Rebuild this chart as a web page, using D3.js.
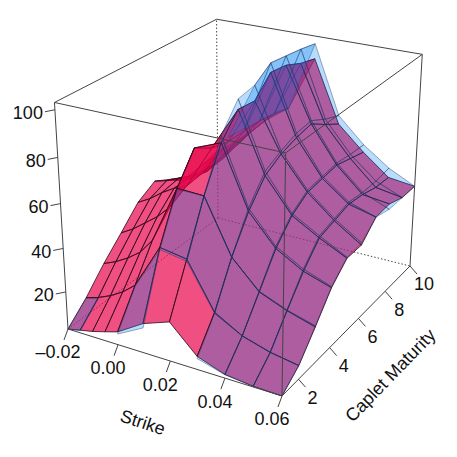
<!DOCTYPE html>
<html>
<head>
<meta charset="utf-8">
<script src="https://cdn.jsdelivr.net/npm/d3@7"></script>
<style>
body { margin: 0; background: #fff; }
text { font-family: "Liberation Sans", Arial, sans-serif; font-size: 18px; fill: #111; }
</style>
</head>
<body>
<script>
//axis values
var strikes = [-0.02, -0.015, -0.01, -0.005, 0, 0.01, 0.02, 0.03, 0.04, 0.05, 0.06];
var maturities = [1, 2, 3, 4, 5, 6, 7, 8, 9, 10];
var strikeTicks = [-0.02, 0, 0.02, 0.04, 0.06];
var strikeLabels = ["\u20130.02", "0.00", "0.02", "0.04", "0.06"];
var maturityTicks = [2, 4, 6, 8, 10];
var volTicks = [20, 40, 60, 80, 100];

//first surface, one row per maturity, one value per strike
var pinkRows = [
    [2.5, 3.8, 5, 6.7, 8.5, 16, 20.4, 8.5, 4.2, 2.8, 2.5],
    [10.8, 12.6, 15.2, 18.7, 23.5, 44, 42, 21.6, 14.5, 10.8, 8.7],
    [20.8, 23.3, 26.7, 31, 38, 64.5, 64, 40, 27.7, 22.7, 19],
    [29.5, 32.9, 37.3, 41.7, 47.5, 77, 81.8, 54.5, 41, 34, 30],
    [38.5, 41.7, 46, 49.5, 52, 72, 91.5, 65, 50, 43, 37],
    [43.3, 45, 47.5, 50, 53, 70, 90.6, 69.5, 55, 45, 37],
    [39, 40, 43, 47, 54, 70, 98.8, 72, 56, 47, 44],
    [35, 38, 43, 48, 56, 70, 97.8, 73.5, 57, 46, 44.5],
    [36, 41, 45, 50, 57, 69, 94.5, 68.5, 55, 44, 42],
    [38, 42, 47, 52, 58, 67, 92.5, 64, 53, 43.5, 42]
];

//second surface, null where it has no value
var blueRows = [
    [2.5, 3.5, null, null, 7.5, 14, null, 7.5, 4, 2.8, 2.5],
    [10.5, 12, null, null, 23, 43, 41, 21, 14.5, 10.8, 8.7],
    [null, null, null, null, null, 64, 64, 40, 28, 23, 19.5],
    [null, null, null, null, null, null, 85, 56, 42, 35, 30.5],
    [null, null, null, null, null, null, 96, 67, 51, 44, 37.5],
    [null, null, null, null, null, 72, 97.5, 71, 56, 46, 38],
    [null, null, null, null, null, 71, 103, 74, 57, 48, 44],
    [null, null, null, null, null, 70, 102, 75, 58, 47, 42],
    [null, null, null, null, null, 68.7, 101, 71, 57, 47, 42],
    [null, null, null, null, null, 66.6, 99.5, 68, 56.6, 48, 42]
];

//SVG dimension variables
var w = 457, h = 457;

var container = d3.select("body")
    .append("svg")
    .attr("width", w)
    .attr("height", h);

//data to unit cube
var xScale = d3.scaleLinear().domain([-0.02, 0.06]).range([0, 1]);
var yScale = d3.scaleLinear().domain([1, 10]).range([0, 1]);
var zScale = d3.scaleLinear().domain([2.5, 103]).range([0, 1]);

//unit cube to screen: 3x4 perspective camera
var camera = [
    [190.5, 187.1, -17.5, 68],
    [34, -73.9, -234, 329],
    [-0.0833, 0.1701, -0.073, 1]
];

function project(x, y, z){
    var p = [xScale(x), yScale(y), zScale(z), 1];
    var row = camera.map(function(c){
        return d3.sum(c, function(v, i){ return v * p[i]; });
    });
    return [row[0] / row[2], row[1] / row[2]];
}

var x0 = xScale.domain()[0], x1 = xScale.domain()[1];
var y0 = yScale.domain()[0], y1 = yScale.domain()[1];
var z0 = zScale.domain()[0], z1 = zScale.domain()[1];

var line = d3.line();

function drawEdges(edges, cls){
    return container.selectAll("." + cls)
        .data(edges)
        .enter()
        .append("path")
        .attr("class", cls)
        .attr("d", function(d){ return line([project(d[0], d[1], d[2]), project(d[3], d[4], d[5])]); })
        .style("fill", "none")
        .style("stroke", "#444")
        .style("stroke-width", 1);
}

//hidden box edges go under the surfaces
drawEdges([
    [x0, y1, z0, x0, y1, z1],
    [x0, y0, z0, x0, y1, z0],
    [x0, y1, z0, x1, y1, z0]
], "backEdge").style("stroke-dasharray", "1.5,2");

//one polygon per grid cell, far cells first
function surfaceCells(rows){
    var cells = [];
    for (var j = maturities.length - 2; j >= 0; j--){
        for (var i = 0; i < strikes.length - 1; i++){
            var corners = [[i, j], [i + 1, j], [i + 1, j + 1], [i, j + 1]];
            var complete = corners.every(function(c){ return rows[c[1]][c[0]] !== null; });
            if (complete){
                cells.push(corners.map(function(c){
                    return project(strikes[c[0]], maturities[c[1]], rows[c[1]][c[0]]);
                }));
            }
        }
    }
    return cells;
}

function drawSurface(rows, cls, fill, stroke){
    container.selectAll("." + cls)
        .data(surfaceCells(rows))
        .enter()
        .append("path")
        .attr("class", cls)
        .attr("d", function(d){ return line(d) + "Z"; })
        .style("fill", fill)
        .style("stroke", stroke)
        .style("stroke-width", 1)
        .style("stroke-linejoin", "round");
}

drawSurface(pinkRows, "pinkCell", "rgba(234,5,76,0.7)", "rgba(40,10,30,0.8)");
drawSurface(blueRows, "blueCell", "rgba(0,130,240,0.28)", "rgba(30,50,90,0.4)");

//box edges in front of the surfaces
drawEdges([
    [x0, y0, z0, x1, y0, z0],
    [x1, y0, z0, x1, y1, z0],
    [x1, y0, z0, x1, y0, z1],
    [x0, y0, z0, x0, y0, z1],
    [x1, y1, z0, x1, y1, z1],
    [x0, y0, z1, x1, y0, z1],
    [x1, y0, z1, x1, y1, z1],
    [x1, y1, z1, x0, y1, z1],
    [x0, y1, z1, x0, y0, z1]
], "frontEdge");

//ticks and labels, offsets in pixels from the projected axis point
function drawAxis(values, labels, toPoint, tick, label, anchor){
    values.forEach(function(v, i){
        var p = toPoint(v);
        container.append("path")
            .attr("class", "tick")
            .attr("d", line([p, [p[0] + tick[0], p[1] + tick[1]]]))
            .style("stroke", "#444")
            .style("stroke-width", 1);
        container.append("text")
            .attr("class", "tickLabel")
            .attr("x", p[0] + label[0])
            .attr("y", p[1] + label[1])
            .attr("dy", "0.36em")
            .attr("text-anchor", anchor)
            .text(labels[i]);
    });
}

drawAxis(strikeTicks, strikeLabels, function(v){ return project(v, y0, z0); }, [-4, 11], [-10, 23], "middle");
drawAxis(maturityTicks, maturityTicks, function(v){ return project(x1, v, z0); }, [7, 8], [14, 18], "middle");
drawAxis(volTicks, volTicks, function(v){ return project(x0, y0, v); }, [-10, 2], [-12, 3], "end");

//axis titles
var strikeTitle = container.append("text")
    .attr("class", "strikeTitle")
    .attr("text-anchor", "middle")
    .attr("dy", "0.36em")
    .attr("transform", "translate(143,422) rotate(18)")
    .text("Strike");

var maturityTitle = container.append("text")
    .attr("class", "maturityTitle")
    .attr("text-anchor", "middle")
    .attr("dy", "0.36em")
    .attr("transform", "translate(390,375) rotate(-46)")
    .text("Caplet Maturity");
</script>
</body>
</html>
